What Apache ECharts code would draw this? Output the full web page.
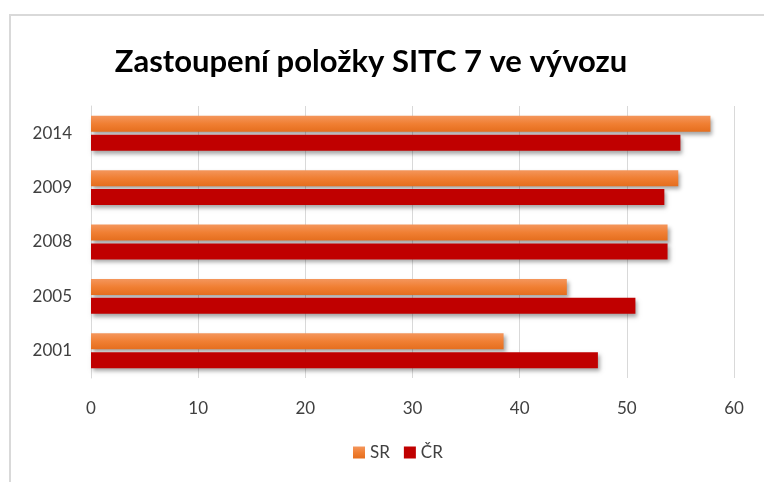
<!DOCTYPE html>
<html>
<head>
<meta charset="utf-8">
<script src="https://cdn.jsdelivr.net/npm/echarts@6/dist/echarts.min.js"></script>
<style>
html,body{margin:0;padding:0;background:#fff;}
#chart{width:764px;height:482px;}
</style>
</head>
<body>
<div id="chart"></div>
<script>
var categories = ['2001', '2005', '2008', '2009', '2014'];
var srValues = [38.5, 44.4, 53.8, 54.8, 57.8];
var crValues = [47.3, 50.8, 53.8, 53.5, 55.0];
var xTicks = [0, 10, 20, 30, 40, 50, 60];

var chart = echarts.init(document.getElementById('chart'));
var font = 'Lato, "Noto Sans", sans-serif';
var shadow = {shadowColor: 'rgba(0,0,0,0.35)', shadowBlur: 4, shadowOffsetX: 2, shadowOffsetY: 3};
chart.setOption({
  animation: false,
  backgroundColor: '#fff',
  graphic: [
    {type: 'polyline', shape: {points: [[10, 482], [10, 15], [764, 15]]}, style: {stroke: '#D9D9D9', lineWidth: 2, fill: null}}
  ],
  title: {
    text: 'Zastoupení položky SITC 7 ve vývozu',
    left: 366, textAlign: 'center', top: 41,
    textStyle: {fontFamily: font, fontWeight: 'bold', fontSize: 31, color: '#000'}
  },
  legend: {
    data: ['SR', 'ČR'],
    bottom: 16, left: 348,
    itemWidth: 12, itemHeight: 12, itemGap: 14,
    icon: 'rect',
    textStyle: {fontFamily: font, fontSize: 17, color: '#404040'}
  },
  grid: {left: 91, right: 30, top: 106, bottom: 104},
  xAxis: {
    type: 'value', min: xTicks[0], max: xTicks[xTicks.length - 1], interval: 10,
    axisLine: {show: false}, axisTick: {show: false},
    splitLine: {show: true, lineStyle: {color: '#D9D9D9', width: 1}},
    axisLabel: {fontFamily: font, fontSize: 17, color: '#404040', margin: 22}
  },
  yAxis: {
    type: 'category', data: categories,
    axisLine: {show: true, lineStyle: {color: '#D9D9D9', width: 1}},
    axisTick: {show: false},
    axisLabel: {fontFamily: font, fontSize: 17, color: '#404040', margin: 19}
  },
  series: [
    {
      name: 'SR', type: 'bar', data: srValues, barWidth: 16, barGap: '18%',
      itemStyle: Object.assign({
        color: new echarts.graphic.LinearGradient(0, 0, 0, 1, [
          {offset: 0, color: '#F4965C'},
          {offset: 0.5, color: '#F07F33'},
          {offset: 1, color: '#E56E1E'}
        ])
      }, shadow)
    },
    {
      name: 'ČR', type: 'bar', data: crValues, barWidth: 16, barGap: '18%',
      itemStyle: Object.assign({color: '#C00000'}, shadow)
    }
  ]
});
</script>
</body>
</html>
